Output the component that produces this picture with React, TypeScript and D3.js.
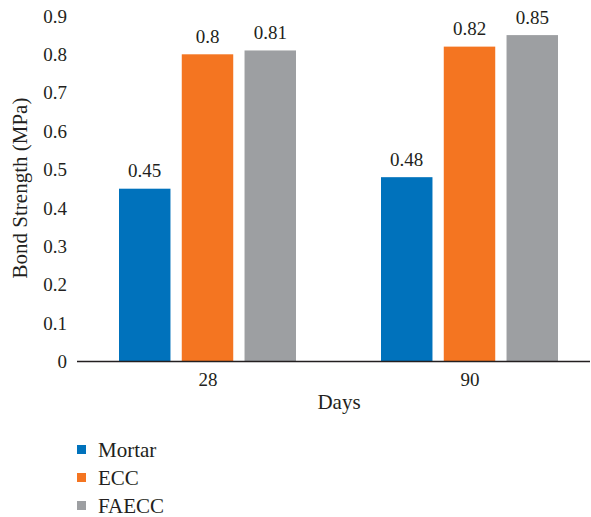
import React from "react";
import * as d3 from "d3";

const categories = ["28", "90"];
const seriesNames = ["Mortar", "ECC", "FAECC"];
const mortar = [0.45, 0.48];
const ecc = [0.8, 0.82];
const faecc = [0.81, 0.85];
const yTicks = [0, 0.1, 0.2, 0.3, 0.4, 0.5, 0.6, 0.7, 0.8, 0.9];
const colors = ["#0072bc", "#f47521", "#9d9fa2"];

const W = 591;
const H = 517;
const FONT = '"Liberation Serif", "DejaVu Serif", "Times New Roman", serif';
const INK = "#231f20";
const FS_NUM = 19;
const FS_TXT = 21;

export default function App() {
  const series = [mortar, ecc, faecc];
  const x0 = d3.scaleBand<string>().domain(categories).range([77, 601]);
  const x1 = d3
    .scaleBand<string>()
    .domain(seriesNames)
    .range([42, 219])
    .paddingInner(0.18);
  const y = d3.scaleLinear().domain([0, 0.9]).range([361.5, 15.9]);

  return (
    <svg
      width={W}
      height={H}
      style={{ position: "absolute", left: 0, top: 0, background: "#fff", fontFamily: FONT }}
    >
      {yTicks.map((t) => (
        <text
          key={t}
          x={67}
          y={y(t)}
          dy="0.35em"
          textAnchor="end"
          fontSize={FS_NUM}
          fill={INK}
          style={{ fontFamily: FONT }}
        >
          {String(+t.toFixed(1))}
        </text>
      ))}
      {categories.map((c, ci) =>
        seriesNames.map((s, si) => {
          const v = series[si][ci];
          const bx = (x0(c) as number) + (x1(s) as number);
          return (
            <g key={c + s}>
              <rect
                x={bx}
                y={y(v)}
                width={x1.bandwidth()}
                height={y(0) - y(v)}
                fill={colors[si]}
              />
              <text
                x={bx + x1.bandwidth() / 2}
                y={y(v) - 11.5}
                textAnchor="middle"
                fontSize={FS_NUM}
                fill={INK}
                style={{ fontFamily: FONT }}
              >
                {String(v)}
              </text>
            </g>
          );
        })
      )}
      <line x1={77} x2={590} y1={361.5} y2={361.5} stroke={INK} strokeWidth={1.3} />
      {categories.map((c) => (
        <text
          key={c}
          x={(x0(c) as number) + x0.bandwidth() / 2}
          y={385.5}
          textAnchor="middle"
          fontSize={FS_NUM}
          fill={INK}
          style={{ fontFamily: FONT }}
        >
          {c}
        </text>
      ))}
      <text x={339} y={409} textAnchor="middle" fontSize={FS_TXT} fill={INK} style={{ fontFamily: FONT }}>
        Days
      </text>
      <text
        transform={`translate(27,188) rotate(-90)`}
        textAnchor="middle"
        fontSize={FS_TXT}
        fill={INK}
        style={{ fontFamily: FONT }}
      >
        Bond Strength (MPa)
      </text>
      {seriesNames.map((s, i) => (
        <g key={s} transform={`translate(77,${449.5 + i * 28})`}>
          <rect x={0} y={-4.5} width={9} height={9} fill={colors[i]} />
          <text x={21} y={0} dy="0.35em" fontSize={FS_TXT} fill={INK} style={{ fontFamily: FONT }}>
            {s}
          </text>
        </g>
      ))}
    </svg>
  );
}
